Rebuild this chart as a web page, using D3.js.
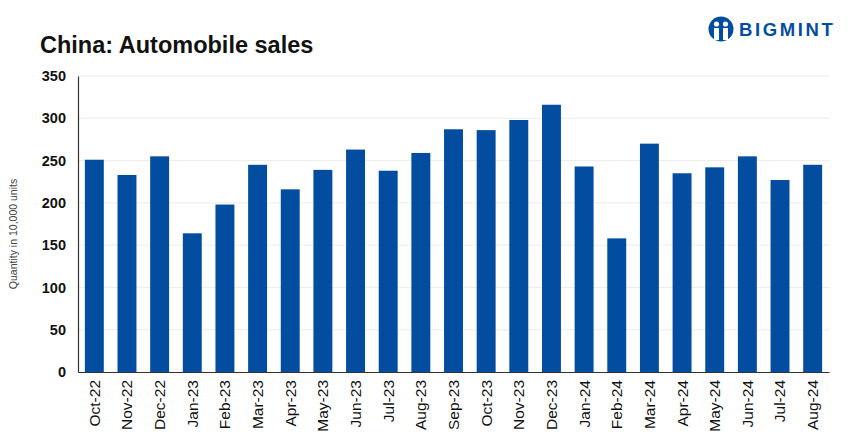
<!DOCTYPE html>
<html>
<head>
<meta charset="utf-8">
<script src="https://cdn.jsdelivr.net/npm/d3@7"></script>
<style>
  body { margin: 0; background: #fff; }
  svg { display: block; font-family: "Liberation Sans", Arial, sans-serif; }
</style>
</head>
<body>
<svg></svg>
<script>
// data
const months = ['Oct-22', 'Nov-22', 'Dec-22', 'Jan-23', 'Feb-23', 'Mar-23', 'Apr-23', 'May-23',
  'Jun-23', 'Jul-23', 'Aug-23', 'Sep-23', 'Oct-23', 'Nov-23', 'Dec-23', 'Jan-24', 'Feb-24',
  'Mar-24', 'Apr-24', 'May-24', 'Jun-24', 'Jul-24', 'Aug-24'];
const sales = [251, 233, 255, 164, 198, 245, 216, 239, 263, 238, 259, 287, 286, 298, 316,
  243, 158, 270, 235, 242, 255, 227, 245];
const yTicks = [0, 50, 100, 150, 200, 250, 300, 350];

// setup
const width = 851;
const height = 437;
const plotLeft = 78;
const plotRight = 829;
const plotTop = 76;
const plotBottom = 372;
const blue = '#034da1';

const svg = d3.select('svg')
  .attr('width', width)
  .attr('height', height);

// scales
const xScale = d3.scaleBand()
  .domain(months)
  .range([plotLeft, plotRight])
  .paddingInner(0.42)
  .paddingOuter(0.21);

const yScale = d3.scaleLinear()
  .domain([0, 350])
  .range([plotBottom, plotTop]);

// gridlines
svg.append('g')
  .selectAll('line')
  .data(yTicks.filter(function (t) { return t > 0; }))
  .enter()
  .append('line')
  .attr('x1', plotLeft)
  .attr('x2', plotRight)
  .attr('y1', function (d) { return yScale(d); })
  .attr('y2', function (d) { return yScale(d); })
  .attr('stroke', '#ececec')
  .attr('stroke-width', 1);

// bars
svg.append('g')
  .selectAll('rect')
  .data(sales)
  .enter()
  .append('rect')
  .attr('x', function (d, i) { return xScale(months[i]); })
  .attr('y', function (d) { return yScale(d); })
  .attr('width', xScale.bandwidth())
  .attr('height', function (d) { return yScale(0) - yScale(d); })
  .attr('fill', blue);

// axes
const yAxis = svg.append('g')
  .attr('transform', 'translate(' + plotLeft + ', 0)')
  .call(d3.axisLeft(yScale).tickValues(yTicks).tickSize(0).tickPadding(12));
yAxis.select('.domain').attr('stroke', '#333').attr('stroke-width', 1.2);
yAxis.selectAll('text')
  .attr('font-size', 14.5)
  .attr('font-weight', 'bold')
  .attr('fill', '#111')
  .attr('font-family', '"Liberation Sans", Arial, sans-serif');

const xAxis = svg.append('g')
  .attr('transform', 'translate(0, ' + plotBottom + ')')
  .call(d3.axisBottom(xScale).tickSize(0).tickPadding(8));
xAxis.select('.domain').attr('stroke', '#333').attr('stroke-width', 1.2);
xAxis.selectAll('text')
  .attr('font-size', 15.5)
  .attr('fill', '#111')
  .attr('font-family', '"Liberation Sans", Arial, sans-serif')
  .attr('transform', 'rotate(-90)')
  .attr('text-anchor', 'end')
  .attr('x', -8)
  .attr('y', 0)
  .attr('dy', '0.35em');

// y title
svg.append('text')
  .attr('transform', 'translate(17, 234) rotate(-90)')
  .attr('text-anchor', 'middle')
  .attr('font-size', 10.5)
  .attr('fill', '#444')
  .text('Quantity in 10,000 units');

// title
svg.append('text')
  .attr('x', 40)
  .attr('y', 53)
  .attr('font-size', 23.5)
  .attr('font-weight', 'bold')
  .attr('fill', '#111')
  .text('China: Automobile sales');

// logo
const logo = svg.append('g').attr('transform', 'translate(721, 29)');
logo.append('circle').attr('r', 12.5).attr('fill', blue);
logo.append('circle').attr('cx', -4.5).attr('cy', -5).attr('r', 2.6).attr('fill', '#fff');
logo.append('circle').attr('cx', 4.5).attr('cy', -5).attr('r', 2.6).attr('fill', '#fff');
logo.append('rect').attr('x', -7).attr('y', -1).attr('width', 5).attr('height', 12).attr('fill', '#fff');
logo.append('rect').attr('x', 2).attr('y', -1).attr('width', 5).attr('height', 12).attr('fill', '#fff');
logo.append('rect').attr('x', -1.5).attr('y', -3).attr('width', 3).attr('height', 15).attr('fill', blue);
svg.append('text')
  .attr('x', 739)
  .attr('y', 36)
  .attr('font-size', 18.5)
  .attr('font-weight', 'bold')
  .attr('letter-spacing', 2.6)
  .attr('fill', blue)
  .text('BIGMINT');
</script>
</body>
</html>
